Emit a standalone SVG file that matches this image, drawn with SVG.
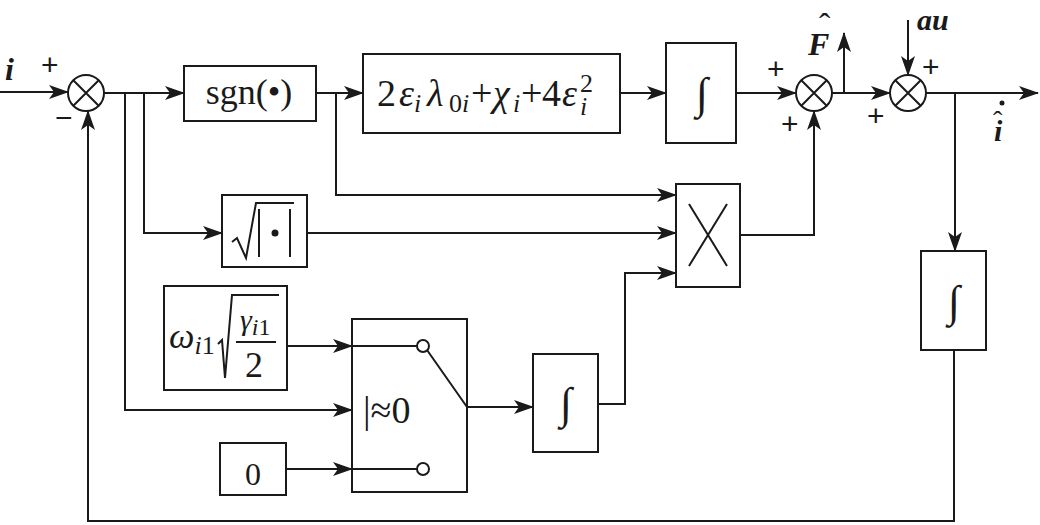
<svg xmlns="http://www.w3.org/2000/svg" width="1040" height="525" viewBox="0 0 1040 525">
<style>
.b{fill:#fff;stroke:#1a1a1a;stroke-width:2}
.w{fill:none;stroke:#1a1a1a;stroke-width:2}
.a{marker-end:url(#ah)}
.t{font-family:"Liberation Serif",serif;fill:#1a1a1a}
.bi{font-family:"Liberation Serif",serif;font-weight:bold;font-style:italic;fill:#1a1a1a}
.s{font-family:"Liberation Sans",sans-serif;fill:#1a1a1a;font-size:30px}
.ig{font-family:"Liberation Serif",serif;fill:#1a1a1a;font-size:44px;text-anchor:middle}
</style>
<defs>
<marker id="ah" markerUnits="userSpaceOnUse" markerWidth="20" markerHeight="14" refX="19" refY="7" orient="auto">
<path d="M0,0 L20,7 L0,14 L5,7 z" fill="#1a1a1a"/>
</marker>
</defs>
<g id="connectors">
<path class="w a" d="M0,92 H68"/>
<path class="w a" d="M104,93 H184"/>
<path class="w a" d="M316,93 H363"/>
<path class="w a" d="M620,93 H666"/>
<path class="w a" d="M736,93 H796"/>
<path class="w a" d="M832,93 H890"/>
<path class="w a" d="M844,93 V33"/>
<path class="w a" d="M908,20 V75"/>
<path class="w a" d="M926,93 H1038"/>
<path class="w a" d="M955,93 V251"/>
<path class="w a" d="M954,350 V521 H88 V111"/>
<path class="w a" d="M125,93 V410 H352"/>
<path class="w a" d="M144,93 V233 H222"/>
<path class="w a" d="M307,233 H676"/>
<path class="w a" d="M336,93 V195 H676"/>
<path class="w a" d="M740,235 H814 V111"/>
<path class="w a" d="M287,346 H352"/>
<path class="w a" d="M286,469 H352"/>
<path class="w a" d="M467,407 H533"/>
<path class="w a" d="M598,404 H625 V273 H676"/>
</g>
<g id="input">
<text class="bi" x="5" y="80" font-size="32">i</text>
<text class="s" x="41" y="75">+</text>
<text class="s" x="55" y="128">−</text>
</g>
<g id="sum1">
<circle class="b" cx="86" cy="93" r="18"/>
<path class="w" d="M73.3,80.3 L98.7,105.7 M98.7,80.3 L73.3,105.7"/>
</g>
<g id="sgn">
<rect class="b" x="184" y="66" width="132" height="55"/>
<text class="t" x="249" y="104" font-size="36" text-anchor="middle">sgn(•)</text>
</g>
<g id="gain">
<rect class="b" x="363" y="54" width="257" height="79"/>
<text class="t" font-size="38" y="106"><tspan x="377">2</tspan><tspan x="399" font-style="italic">ε</tspan><tspan x="414" font-style="italic" font-size="26" y="112">i</tspan><tspan x="427" y="106" font-style="italic">λ</tspan><tspan x="449" font-size="26" y="112">0</tspan><tspan font-style="italic" font-size="26">i</tspan><tspan x="471" y="106">+</tspan><tspan x="493" font-style="italic">χ</tspan><tspan x="513" font-style="italic" font-size="26" y="112">i</tspan><tspan x="521" y="106">+</tspan><tspan x="542">4</tspan><tspan x="562" font-style="italic">ε</tspan><tspan x="580" font-style="italic" font-size="26" y="115">i</tspan></text>
<text class="t" x="580" y="92" font-size="26">2</text>
</g>
<g id="int1">
<rect class="b" x="666" y="43" width="70" height="100"/>
<text class="ig" x="702" y="108">∫</text>
</g>
<g id="sum2">
<circle class="b" cx="814" cy="93" r="18"/>
<path class="w" d="M801.3,80.3 L826.7,105.7 M826.7,80.3 L801.3,105.7"/>
<text class="s" x="767" y="79">+</text>
<text class="s" x="781" y="134">+</text>
</g>
<g id="Fhat">
<text class="bi" x="808" y="55" font-size="32">F</text>
<text class="t" x="819" y="37" font-size="34">ˆ</text>
</g>
<g id="sum3">
<circle class="b" cx="908" cy="93" r="18"/>
<path class="w" d="M895.3,80.3 L920.7,105.7 M920.7,80.3 L895.3,105.7"/>
<text class="s" x="922" y="77">+</text>
<text class="s" x="867" y="126">+</text>
</g>
<g id="au">
<text class="bi" x="917" y="30" font-size="30">au</text>
</g>
<g id="output">
<text class="bi" x="994" y="141" font-size="30">i</text>
<text class="t" x="993" y="130" font-size="28">ˆ</text>
<circle cx="1002" cy="103" r="2.5" fill="#1a1a1a"/>
</g>
<g id="sqrtabs">
<rect class="b" x="222" y="195" width="85" height="72"/>
<path class="w" d="M232,242 L237,238 L246,258 L256,203 H294"/>
<path class="w" d="M259,209 V257 M290,209 V257"/>
<circle cx="275" cy="233" r="3.5" fill="#1a1a1a"/>
</g>
<g id="mult">
<rect class="b" x="676" y="184" width="64" height="103"/>
<path class="w" d="M689,204 L727,266 M727,204 L689,266"/>
</g>
<g id="omega">
<rect class="b" x="164" y="286" width="123" height="104"/>
<text class="t" x="169" y="348" font-size="36" font-style="italic">ω<tspan font-size="26" dy="6">i</tspan><tspan font-style="normal" font-size="26">1</tspan></text>
<path class="w" d="M218,344 L222,340 L225,378 L232,295 H279"/>
<text class="t" x="240" y="330" font-size="30" font-style="italic">γ<tspan font-size="24" dy="5">i</tspan><tspan font-style="normal" font-size="24">1</tspan></text>
<path class="w" d="M236,342 H276"/>
<text class="t" x="254" y="377" font-size="36" text-anchor="middle">2</text>
</g>
<g id="zero">
<rect class="b" x="220" y="443" width="66" height="52"/>
<text class="t" x="253" y="485" font-size="32" text-anchor="middle">0</text>
</g>
<g id="switch">
<rect class="b" x="352" y="319" width="115" height="173"/>
<path class="w" d="M352,346 H417 M352,469 H417 M427,350 L467,407"/>
<circle class="b" cx="423" cy="346" r="6"/>
<circle class="b" cx="423" cy="469" r="6"/>
<text class="t" x="363" y="423" font-size="38">|≈0</text>
</g>
<g id="int2">
<rect class="b" x="533" y="354" width="65" height="98"/>
<text class="ig" x="566" y="418">∫</text>
</g>
<g id="int3">
<rect class="b" x="921" y="251" width="65" height="99"/>
<text class="ig" x="954" y="316">∫</text>
</g>
</svg>
